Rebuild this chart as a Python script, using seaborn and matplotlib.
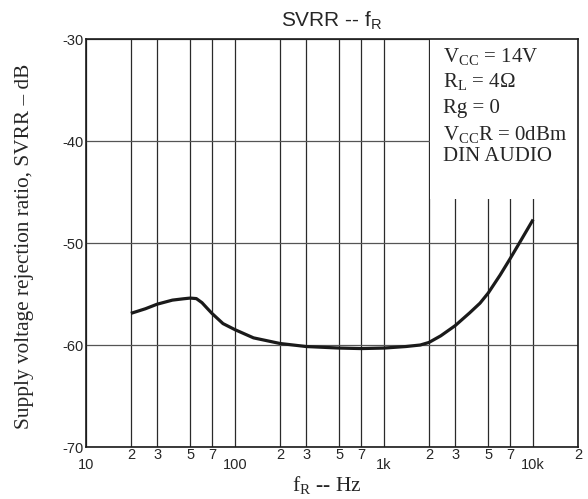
import matplotlib
matplotlib.use('Agg')
import matplotlib.pyplot as plt
from matplotlib.patches import Rectangle
import pandas as pd
import seaborn as sns

# values
freq_hz = [20, 25, 30, 38, 45, 50, 55, 60, 65, 70, 83, 100, 133, 200, 300, 500,
           700, 1000, 1400, 1750, 2000, 2400, 3000, 3750, 4400, 5000, 6000, 7000,
           8200, 10000]
svrr_db = [-56.9, -56.45, -56.0, -55.6, -55.47, -55.4, -55.45, -55.85, -56.4, -56.9,
           -57.9, -58.5, -59.3, -59.85, -60.15, -60.3, -60.35, -60.3, -60.15, -60.0,
           -59.75, -59.1, -58.1, -56.85, -55.9, -54.9, -53.15, -51.55, -49.85, -47.7]

major_ticks = [10, 100, 1000, 10000]
major_labels = ['10', '100', '1k', '10k']
minor_ticks = [20, 30, 50, 70, 200, 300, 500, 700, 2000, 3000, 5000, 7000, 20000]
minor_labels = ['2', '3', '5', '7', '2', '3', '5', '7', '2', '3', '5', '7', '2']
y_ticks = [-70, -60, -50, -40, -30]
y_labels = ['-70', '-60', '-50', '-40', '-30']
conditions = ['V$_{\\mathrm{CC}}$ = 14V', 'R$_{\\mathrm{L}}$ = 4\u03a9', 'Rg = 0',
              'V$_{\\mathrm{CC}}$R = 0dBm', 'DIN AUDIO']

df = pd.DataFrame({'f': freq_hz, 'svrr': svrr_db})

sns.set_style('white')
plt.rcParams['font.family'] = ['Liberation Sans', 'DejaVu Sans']
plt.rcParams['mathtext.fontset'] = 'custom'
plt.rcParams['mathtext.rm'] = 'Liberation Serif'
plt.rcParams['mathtext.sf'] = 'Liberation Sans'

fig = plt.figure(figsize=(5.88, 4.99), dpi=100)
ax = fig.add_axes([86/588, 1-447/499, 492/588, 408/499])

sns.lineplot(data=df, x='f', y='svrr', ax=ax, color='#1a1a1a', lw=2.3, zorder=3,
             solid_joinstyle='round', solid_capstyle='butt')
ax.set_xscale('log')
ax.set_xlim(10, 20000)
ax.set_ylim(-70, -30)

ax.set_xticks(major_ticks)
ax.set_xticklabels(major_labels, fontsize=10.5)
ax.set_xticks(minor_ticks, minor=True)
ax.set_xticklabels(minor_labels, minor=True, fontsize=10.5)
ax.tick_params(axis='x', which='major', length=0, pad=8)
ax.tick_params(axis='x', which='minor', length=0, pad=1)
ax.set_yticks(y_ticks)
ax.set_yticklabels(y_labels, fontsize=10.5)
ax.tick_params(axis='y', length=0, pad=2)

ax.set_axisbelow(True)
ax.grid(which='both', axis='x', color='#2a2a2a', lw=0.9)
ax.grid(which='major', axis='y', color='#555555', lw=0.9)
for s in ax.spines.values():
    s.set_color('#1a1a1a')
    s.set_linewidth(1.2)

# white box holding the test conditions
ax.add_patch(Rectangle((2040, -45.7), 20000 - 2040, 15.7, facecolor='white',
                       edgecolor='none', zorder=1))
for txt, yy in zip(conditions, [-32.25, -34.7, -37.25, -39.9, -41.96]):
    ax.text(2490, yy, txt, fontsize=15, family='Liberation Serif', va='baseline',
            ha='left', zorder=4)

ax.set_xlabel('')
ax.set_ylabel('')
ax.set_title('SVRR -- f$_{\\mathsf{R}}$', fontsize=15, pad=9)
fig.text(327/588, 1-486/499, 'f$_{\\mathrm{R}}$ -- Hz', family='Liberation Serif',
         fontsize=15.5, ha='center', va='center')
fig.text(25/588, 1-246/499, 'Supply voltage rejection ratio, SVRR \u2013 dB',
         family='Liberation Serif', fontsize=15.3, rotation=90, ha='center', va='center')

fig.savefig('out.png', dpi=100)
